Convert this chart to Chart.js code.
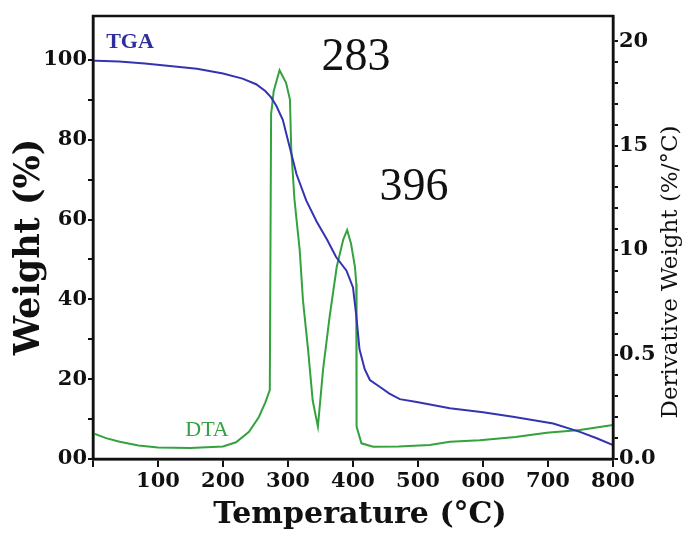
<!DOCTYPE html>
<html>
<head>
<meta charset="utf-8">
<script src="https://cdn.jsdelivr.net/npm/chart.js@4"></script>
<style>
  html, body { margin: 0; padding: 0; background: #fff; }
  #wrap { width: 691px; height: 535px; }
</style>
</head>
<body>
<div id="wrap"><canvas id="tga"></canvas></div>
<script>
// TGA curve, weight (%) vs temperature
const tgaTemp = [0, 5, 40, 80, 118, 160, 200, 230, 251, 265, 274, 282, 292, 300, 308, 313, 328, 344, 360, 374, 390, 400, 405, 410, 418, 426, 441, 456, 472, 498, 549, 600, 646, 708, 749, 775, 800];
const tgaWeight = [99.8, 99.8, 99.6, 99.1, 98.5, 97.8, 96.6, 95.3, 93.9, 92.2, 90.6, 88.5, 85.0, 79.8, 74.7, 71.4, 64.8, 59.5, 55.0, 50.6, 47.2, 43.0, 36.0, 27.5, 22.5, 19.8, 18.1, 16.4, 15.0, 14.3, 12.7, 11.7, 10.6, 8.9, 6.8, 5.2, 3.5];

// DTA curve, derivative weight vs temperature
const dtaTemp = [0, 20, 41, 70, 100, 150, 200, 220, 240, 255, 265, 272, 274, 278, 287, 297, 303, 305, 310, 318, 323, 331, 338, 346, 354, 364, 375, 385, 391, 397, 403, 405, 405.5, 413, 431, 470, 518, 549, 595, 650, 698, 749, 800];
const dtaValue = [1.23, 1.0, 0.83, 0.65, 0.55, 0.53, 0.6, 0.8, 1.3, 2.0, 2.7, 3.3, 16.5, 17.6, 18.6, 18.0, 17.2, 14.8, 12.4, 10.0, 7.6, 5.2, 2.8, 1.55, 4.3, 6.8, 9.2, 10.5, 10.96, 10.3, 9.2, 8.4, 1.55, 0.75, 0.59, 0.6, 0.67, 0.83, 0.9, 1.05, 1.26, 1.39, 1.63];

// tick labels
const leftLabels = { 0: '00', 20: '20', 40: '40', 60: '60', 80: '80', 100: '100' };
const rightLabels = { 0: '0.0', 5: '0.5', 10: '10', 15: '15', 20: '20' };

const tickFont = { family: 'DejaVu Serif', weight: 'bold', size: 21 };

const textPlugin = {
    id: 'textPlugin',
    afterDraw(chart) {
        const ctx = chart.ctx;
        const a = chart.chartArea;
        ctx.save();
        // frame
        ctx.strokeStyle = '#111';
        ctx.lineWidth = 2.5;
        ctx.strokeRect(a.left, a.top, a.right - a.left, a.bottom - a.top);

        ctx.fillStyle = '#111';
        ctx.textAlign = 'center';
        ctx.textBaseline = 'middle';

        // x title
        ctx.font = 'bold 30px "DejaVu Serif"';
        ctx.fillText('Temperature (°C)', 360, 515);

        // left title
        ctx.save();
        ctx.translate(30, 247);
        ctx.rotate(-Math.PI / 2);
        ctx.font = 'bold 35px "DejaVu Serif"';
        ctx.fillText('Weight (%)', 0, 0);
        ctx.restore();

        // right title
        ctx.save();
        ctx.translate(671, 272);
        ctx.rotate(-Math.PI / 2);
        ctx.font = '23px "DejaVu Serif"';
        ctx.fillText('Derivative Weight (%/°C)', 0, 0);
        ctx.restore();

        // peak labels
        ctx.font = '46px "Liberation Serif"';
        ctx.fillText('283', 356, 58);
        ctx.fillText('396', 414, 188);

        // curve names
        ctx.font = 'bold 22px "Liberation Serif"';
        ctx.fillStyle = '#2e2e9e';
        ctx.fillText('TGA', 130, 42);
        ctx.font = '22px "Liberation Serif"';
        ctx.fillStyle = '#36a043';
        ctx.fillText('DTA', 207, 430);
        ctx.restore();
    }
};

window.onload = function () {
    const ctx = document.getElementById('tga').getContext('2d');
    new Chart(ctx, {
        type: 'scatter',
        data: {
            datasets: [{
                label: 'TGA',
                data: tgaTemp.map((t, i) => ({ x: t, y: tgaWeight[i] })),
                yAxisID: 'y',
                showLine: true,
                borderColor: '#3434b2',
                borderWidth: 2,
                pointRadius: 0,
                tension: 0
            }, {
                label: 'DTA',
                data: dtaTemp.map((t, i) => ({ x: t, y: dtaValue[i] })),
                yAxisID: 'y1',
                showLine: true,
                borderColor: '#33a23f',
                borderWidth: 2,
                pointRadius: 0,
                tension: 0
            }]
        },
        options: {
            responsive: true,
            maintainAspectRatio: false,
            animation: false,
            layout: { padding: { top: 16, right: 0, left: 0, bottom: 0 } },
            plugins: {
                legend: { display: false },
                tooltip: { enabled: false }
            },
            scales: {
                x: {
                    type: 'linear',
                    min: 0,
                    max: 800,
                    afterFit(s) { s.height = 76; },
                    grid: { drawOnChartArea: false, color: '#111', tickLength: 8, lineWidth: 2 },
                    border: { display: true, color: '#111', width: 2.5 },
                    ticks: {
                        stepSize: 100,
                        color: '#111',
                        font: tickFont,
                        padding: 2,
                        maxRotation: 0,
                        callback: v => v === 0 ? '' : String(v)
                    }
                },
                y: {
                    position: 'left',
                    min: 0,
                    max: 111,
                    afterFit(s) { s.width = 93; },
                    afterBuildTicks(s) { s.ticks = s.ticks.filter(t => t.value % 10 === 0); },
                    grid: { drawOnChartArea: false, color: '#111', tickLength: 5, lineWidth: 2 },
                    border: { display: true, color: '#111', width: 2.5 },
                    ticks: {
                        stepSize: 10,
                        color: '#111',
                        font: tickFont,
                        padding: 1,
                        callback: v => leftLabels[v] !== undefined ? leftLabels[v] : ''
                    }
                },
                y1: {
                    position: 'right',
                    min: 0,
                    max: 21.2,
                    afterFit(s) { s.width = 78; },
                    afterBuildTicks(s) { s.ticks = s.ticks.filter(t => Number.isInteger(t.value)); },
                    grid: { drawOnChartArea: false, color: '#111', tickLength: 5, lineWidth: 2 },
                    border: { display: true, color: '#111', width: 2.5 },
                    ticks: {
                        stepSize: 1,
                        color: '#111',
                        font: tickFont,
                        padding: 1,
                        autoSkip: false,
                        callback: v => rightLabels[v] !== undefined ? rightLabels[v] : ''
                    }
                }
            }
        },
        plugins: [textPlugin]
    });
};
</script>
</body>
</html>
